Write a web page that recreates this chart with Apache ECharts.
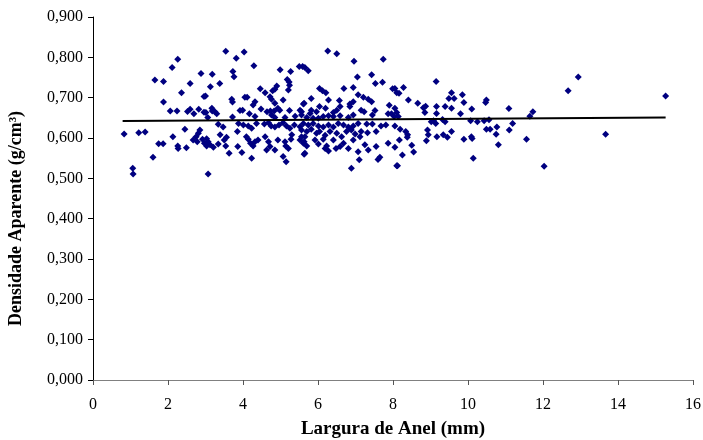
<!DOCTYPE html>
<html>
<head>
<meta charset="utf-8">
<script src="https://cdn.jsdelivr.net/npm/echarts@6/dist/echarts.min.js"></script>
<style>
  html, body { margin: 0; padding: 0; background: #fff; }
  #chart { width: 703px; height: 440px; }
</style>
</head>
<body>
<div id="chart"></div>
<script>
// ring width (mm) and apparent density (g/cm3)
const ringWidth = [
  2.26, 2.11, 2.88, 1.65, 1.88, 2.59, 2.36, 2.96, 1.88, 2.06, 2.24, 2.52, 2.59, 2.69, 2.82, 2.96,
  0.83, 1.22, 1.39, 2.45, 2.85, 2.81, 2.75, 2.67, 2.78, 2.92, 3.03, 2.97, 3.03, 2.13, 1.75, 1.87,
  2.26, 2.27, 2.49, 1.60, 1.06, 1.07,
  3.54, 4.03, 3.82, 4.29, 5.50, 5.59, 4.99, 5.27, 3.73, 3.76, 3.18, 5.18, 5.23, 5.24, 3.38, 3.13,
  4.90, 4.85, 4.79, 4.46, 4.59, 5.21, 3.00, 4.05, 4.11, 3.70, 3.72, 4.32, 4.27, 4.72, 4.76, 5.07,
  4.85, 5.61, 3.17, 3.18, 3.25, 3.30, 3.01, 3.92, 3.99, 4.48, 4.64, 4.73, 4.83, 4.93, 4.98, 5.24,
  5.56, 4.17, 3.72, 4.32, 4.76, 4.85, 5.12, 5.39, 3.06, 4.36, 4.57, 4.68, 4.75, 4.85, 4.96, 5.07,
  5.16, 5.25, 5.37, 5.52, 5.61, 3.88, 4.01, 4.14, 4.23, 3.34, 3.47, 3.85, 3.39, 3.56, 3.50, 3.07,
  3.12, 3.21, 3.34, 4.09, 4.14, 4.20, 4.27, 4.32, 4.40, 4.59, 4.68, 4.72, 4.63, 4.93, 5.12, 5.14,
  5.21, 5.30, 5.28, 5.56, 5.63, 3.54, 3.86, 3.97, 3.63, 4.23, 4.85, 5.07, 5.15, 5.63, 3.07,
  6.26, 6.50, 6.96, 7.74, 5.65, 5.74, 7.43, 7.53, 7.72, 7.05, 6.69, 6.94, 7.99, 6.04, 6.12, 6.21,
  5.82, 6.28, 6.57, 7.07, 7.21, 7.34, 7.43, 6.85, 6.94, 6.85, 5.63, 5.52, 7.90, 8.05, 6.04, 6.20,
  5.96, 5.82, 5.79, 6.41, 6.50, 6.59, 7.15, 7.23, 7.52, 7.45, 6.94, 6.81, 6.59, 6.41, 6.28, 6.14,
  6.01, 5.87, 5.70, 5.56, 7.87, 7.96, 8.14, 5.74, 5.87, 6.01, 6.14, 6.28, 6.41, 6.54, 6.68, 6.81,
  6.94, 7.07, 7.30, 7.45, 7.68, 7.81, 8.05, 5.56, 5.70, 5.82, 5.96, 6.04, 6.19, 6.32, 6.50, 6.63,
  6.76, 6.89, 6.99, 7.15, 7.32, 7.55, 5.65, 5.52, 5.61, 5.70, 5.92, 6.01, 6.14, 6.23, 6.41, 6.48,
  6.59, 6.68, 6.81, 6.94, 7.12, 7.25, 7.34, 7.55, 7.87, 8.05, 8.17, 5.65, 6.19, 6.28, 7.07, 7.10,
  7.65, 7.60, 8.10, 6.89,
  9.15, 8.28, 8.10, 8.16, 8.05, 8.41, 8.66, 9.56, 9.49, 9.63, 9.85, 9.89, 8.81, 8.87, 8.85, 9.16,
  9.16, 9.39, 9.56, 10.47, 10.49, 10.10, 9.80, 8.10, 8.03, 9.08, 9.14, 9.32, 9.39, 9.02, 10.07, 10.25,
  10.43, 10.56, 8.19, 8.34, 8.39, 8.38, 8.92, 8.94, 8.89, 9.17, 9.34, 9.45, 9.56, 9.89, 10.09, 10.11,
  10.49, 8.50, 8.55, 8.25, 10.14, 8.12,
  12.94, 12.67, 11.09, 11.73, 11.65, 11.19, 11.10, 10.77, 10.75, 10.81, 10.59, 11.56, 12.03,
  15.27, 13.67
];
const density = [
  0.795, 0.775, 0.760, 0.744, 0.740, 0.735, 0.712, 0.703, 0.689, 0.667, 0.667, 0.666, 0.671, 0.660, 0.671, 0.664,
  0.610, 0.613, 0.615, 0.622, 0.620, 0.612, 0.603, 0.595, 0.591, 0.597, 0.598, 0.587, 0.580, 0.603, 0.586, 0.586,
  0.580, 0.574, 0.576, 0.552, 0.525, 0.511,
  0.815, 0.813, 0.798, 0.779, 0.777, 0.777, 0.769, 0.765, 0.765, 0.752, 0.758, 0.745, 0.739, 0.731, 0.735, 0.727,
  0.729, 0.721, 0.717, 0.722, 0.712, 0.719, 0.704, 0.701, 0.701, 0.696, 0.689, 0.690, 0.682, 0.702, 0.696, 0.694,
  0.686, 0.684, 0.674, 0.667, 0.665, 0.660, 0.663, 0.668, 0.669, 0.672, 0.665, 0.667, 0.667, 0.674, 0.669, 0.668,
  0.665, 0.660, 0.652, 0.653, 0.657, 0.651, 0.651, 0.654, 0.651, 0.636, 0.635, 0.638, 0.630, 0.627, 0.632, 0.638,
  0.630, 0.624, 0.632, 0.628, 0.636, 0.636, 0.632, 0.630, 0.624, 0.634, 0.627, 0.616, 0.608, 0.602, 0.595, 0.591,
  0.583, 0.577, 0.585, 0.603, 0.597, 0.587, 0.580, 0.591, 0.595, 0.603, 0.591, 0.579, 0.570, 0.595, 0.591, 0.580,
  0.574, 0.608, 0.597, 0.603, 0.591, 0.580, 0.579, 0.564, 0.562, 0.550, 0.570, 0.554, 0.541, 0.560, 0.511,
  0.816, 0.809, 0.790, 0.795, 0.775, 0.767, 0.757, 0.735, 0.738, 0.751, 0.723, 0.725, 0.722, 0.723, 0.717, 0.712,
  0.698, 0.694, 0.693, 0.707, 0.701, 0.696, 0.690, 0.684, 0.690, 0.678, 0.686, 0.669, 0.681, 0.674, 0.678, 0.674,
  0.665, 0.669, 0.661, 0.663, 0.669, 0.678, 0.669, 0.665, 0.668, 0.657, 0.657, 0.651, 0.655, 0.653, 0.655, 0.653,
  0.649, 0.649, 0.651, 0.657, 0.660, 0.660, 0.653, 0.632, 0.636, 0.630, 0.627, 0.632, 0.627, 0.636, 0.632, 0.627,
  0.630, 0.636, 0.635, 0.635, 0.630, 0.632, 0.630, 0.620, 0.616, 0.622, 0.612, 0.616, 0.607, 0.616, 0.612, 0.603,
  0.616, 0.620, 0.610, 0.616, 0.613, 0.616, 0.603, 0.595, 0.587, 0.580, 0.595, 0.585, 0.597, 0.580, 0.595, 0.574,
  0.579, 0.587, 0.574, 0.595, 0.603, 0.583, 0.570, 0.579, 0.587, 0.577, 0.595, 0.562, 0.574, 0.568, 0.566, 0.546,
  0.552, 0.547, 0.531, 0.525,
  0.740, 0.725, 0.712, 0.711, 0.723, 0.694, 0.686, 0.712, 0.698, 0.698, 0.707, 0.688, 0.675, 0.679, 0.663, 0.678,
  0.661, 0.678, 0.674, 0.688, 0.694, 0.672, 0.660, 0.663, 0.653, 0.643, 0.636, 0.646, 0.640, 0.640, 0.643, 0.640,
  0.643, 0.645, 0.622, 0.616, 0.608, 0.602, 0.620, 0.608, 0.593, 0.603, 0.608, 0.602, 0.616, 0.597, 0.603, 0.599,
  0.622, 0.582, 0.565, 0.558, 0.550, 0.531,
  0.751, 0.717, 0.673, 0.665, 0.654, 0.636, 0.620, 0.627, 0.609, 0.583, 0.622, 0.597, 0.530,
  0.704, 0.609
];

// linear trend line end points
const trendX = [0.79, 15.27];
const trendY = [0.642, 0.651];

const chart = echarts.init(document.getElementById('chart'));

const serif = '"Liberation Serif", "Times New Roman", serif';

const option = {
  backgroundColor: '#fff',
  animation: false,
  grid: { left: 93, right: 10, top: 17, bottom: 60, outerBoundsMode: 'none' },
  xAxis: {
    type: 'value',
    min: 0,
    max: 16,
    interval: 2,
    name: 'Largura de Anel (mm)',
    nameLocation: 'middle',
    nameGap: 40,
    nameTextStyle: { fontFamily: serif, fontWeight: 'bold', fontSize: 19, color: '#000' },
    axisLine: { lineStyle: { color: '#808080', width: 1 } },
    axisTick: { length: 5, lineStyle: { color: '#555' } },
    axisLabel: { margin: 17, fontFamily: serif, fontSize: 16, color: '#000' },
    splitLine: { show: false }
  },
  yAxis: {
    type: 'value',
    min: 0,
    max: 0.9,
    interval: 0.1,
    name: 'Densidade Aparente (g/cm³)',
    nameLocation: 'middle',
    nameGap: 68,
    nameTextStyle: { fontFamily: serif, fontWeight: 'bold', fontSize: 18, color: '#000', padding: [0, 40, 0, 0] },
    axisLine: { show: true, lineStyle: { color: '#000', width: 1 } },
    axisTick: { show: true, length: 5, lineStyle: { color: '#000' } },
    axisLabel: {
      margin: 10,
      fontFamily: serif,
      fontSize: 16,
      color: '#000',
      formatter: v => v.toFixed(3).replace('.', ',')
    },
    splitLine: { show: false }
  },
  series: [
    {
      type: 'scatter',
      symbol: 'diamond',
      symbolSize: 7,
      itemStyle: { color: '#000080', opacity: 1 },
      data: ringWidth.map((x, i) => [x, density[i]])
    },
    {
      type: 'line',
      symbol: 'none',
      lineStyle: { color: '#000', width: 2 },
      data: trendX.map((x, i) => [x, trendY[i]])
    }
  ]
};

chart.setOption(option);
</script>
</body>
</html>
